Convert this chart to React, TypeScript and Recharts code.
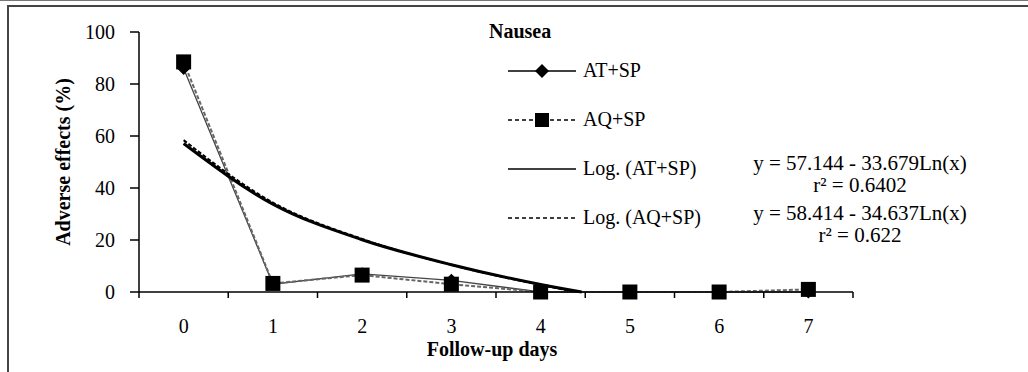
import React from 'react';
import { LineChart, Line, XAxis, YAxis, Legend, Label } from 'recharts';

const DAYS = [0, 1, 2, 3, 4, 5, 6, 7];
const AT_SP = [86, 3, 7, 4.5, 0, 0, 0, 0];
const AQ_SP = [88.5, 3.3, 6.5, 3, 0, 0, 0, 1];

// trend curves (they end where they reach 0)
const TREND_AT_X = [0, 1, 2, 3, 4, 4.46];
const TREND_AT = [57.1, 33.8, 20.1, 10.5, 2.9, 0];
const TREND_AQ_X = [0, 1, 2, 3, 4, 4.4];
const TREND_AQ = [58.4, 34.4, 20.4, 10.4, 2.7, 0];

const Y_TICKS = [0, 20, 40, 60, 80, 100];
const X_BOUNDS = [-0.5, 0.5, 1.5, 2.5, 3.5, 4.5, 5.5, 6.5, 7.5];

const EQ_AT = ['y = 57.144 - 33.679Ln(x)', 'r² = 0.6402'];
const EQ_AQ = ['y = 58.414 - 34.637Ln(x)', 'r² = 0.622'];

const FONT = "'Liberation Serif', 'Times New Roman', serif";

const dataAT = DAYS.map((d, i) => ({ x: d, v: AT_SP[i] }));
const dataAQ = DAYS.map((d, i) => ({ x: d, v: AQ_SP[i] }));
const trendAT = TREND_AT_X.map((d, i) => ({ x: d, v: TREND_AT[i] }));
const trendAQ = TREND_AQ_X.map((d, i) => ({ x: d, v: TREND_AQ[i] }));

const Square = (props: any) => {
  const { cx, cy } = props;
  if (cx == null || cy == null) return null;
  return <rect x={cx - 7.5} y={cy - 7.5} width={15} height={15} fill="#000" />;
};

const Diamond = (props: any) => {
  const { cx, cy } = props;
  if (cx == null || cy == null) return null;
  const s = 6.5;
  return <polygon points={`${cx},${cy - s} ${cx + s},${cy} ${cx},${cy + s} ${cx - s},${cy}`} fill="#000" />;
};

const LEGEND_ROWS = [
  { name: 'AT+SP', dash: undefined, marker: 'diamond' },
  { name: 'AQ+SP', dash: '4 3', marker: 'square' },
  { name: 'Log. (AT+SP)', dash: undefined, marker: null },
  { name: 'Log. (AQ+SP)', dash: '4 3', marker: null },
];

const renderLegend = () => (
  <div style={{ fontFamily: FONT, fontSize: 20, color: '#000' }}>
    {LEGEND_ROWS.map((r) => (
      <div key={r.name} style={{ display: 'flex', alignItems: 'center', height: 49 }}>
        <svg width={70} height={16} style={{ marginRight: 5 }}>
          <line x1={0} y1={8} x2={68} y2={8} stroke="#000" strokeWidth={1.5} strokeDasharray={r.dash} />
          {r.marker === 'diamond' && <polygon points="34,1 41,8 34,15 27,8" fill="#000" />}
          {r.marker === 'square' && <rect x={27} y={1} width={14} height={14} fill="#000" />}
        </svg>
        <span>{r.name}</span>
      </div>
    ))}
  </div>
);

const eqStyle = (top: number): React.CSSProperties => ({
  position: 'absolute',
  left: 740,
  width: 240,
  top,
  textAlign: 'center',
  fontFamily: FONT,
  fontSize: 21,
  lineHeight: '22px',
  color: '#000',
});

export default function App() {
  return (
    <div style={{ position: 'absolute', left: 0, top: 0, width: 1028, height: 372, background: '#fff', overflow: 'hidden' }}>
      <div style={{ position: 'absolute', left: 0, top: 0, width: 1028, height: 1, background: '#777' }} />
      <div style={{ position: 'absolute', left: 7, top: 5, width: 1040, height: 400, border: '2px solid #444', boxSizing: 'border-box' }} />
      <LineChart width={1028} height={372} margin={{ top: 32, right: 175, bottom: 12, left: 49 }}>
        <XAxis
          xAxisId="a"
          type="number"
          dataKey="x"
          domain={[-0.5, 7.5]}
          ticks={X_BOUNDS}
          tickFormatter={() => ''}
          height={8}
          tickSize={6}
          stroke="#000"
          strokeWidth={1.5}
        />
        <XAxis
          xAxisId="b"
          type="number"
          dataKey="x"
          domain={[-0.5, 7.5]}
          ticks={DAYS}
          axisLine={false}
          tickLine={false}
          tickSize={0}
          tickMargin={19}
          height={60}
          tick={{ fontFamily: FONT, fontSize: 20, fill: '#000' }}
        >
          <Label value="Follow-up days" position="insideBottom" offset={4} dx={-4}
            style={{ fontFamily: FONT, fontSize: 20, fontWeight: 'bold', fill: '#000' }} />
        </XAxis>
        <YAxis
          type="number"
          domain={[0, 100]}
          ticks={Y_TICKS}
          width={90}
          tickSize={9}
          tickMargin={15}
          stroke="#000"
          strokeWidth={1.5}
          tick={{ fontFamily: FONT, fontSize: 20, fill: '#000' }}
        >
          <Label value="Adverse effects (%)" angle={-90} position="insideLeft" offset={14}
            style={{ textAnchor: 'middle', fontFamily: FONT, fontSize: 20, fontWeight: 'bold', fill: '#000' }} />
        </YAxis>
        <Legend
          layout="vertical"
          align="center"
          verticalAlign="middle"
          content={renderLegend}
          wrapperStyle={{ position: 'absolute', left: 508, top: 46, width: 240 }}
        />
        <Line xAxisId="a" data={dataAT} dataKey="v" name="AT+SP" stroke="#444" strokeWidth={1.3}
          dot={<Diamond />} activeDot={false} isAnimationActive={false} />
        <Line xAxisId="a" data={dataAQ} dataKey="v" name="AQ+SP" stroke="#666" strokeWidth={2} strokeDasharray="4 2"
          dot={<Square />} activeDot={false} isAnimationActive={false} />
        <Line xAxisId="a" data={trendAT} dataKey="v" name="Log. (AT+SP)" type="monotone" stroke="#000" strokeWidth={3}
          dot={false} activeDot={false} isAnimationActive={false} />
        <Line xAxisId="b" data={trendAQ} dataKey="v" name="Log. (AQ+SP)" type="monotone" stroke="#000" strokeWidth={2}
          strokeDasharray="4 2" dot={false} activeDot={false} isAnimationActive={false} />
      </LineChart>
      <div style={{ position: 'absolute', left: 489, top: 20, fontFamily: FONT, fontSize: 20, fontWeight: 'bold', color: '#000' }}>
        Nausea
      </div>
      <div style={eqStyle(152)}>
        <div>{EQ_AT[0]}</div>
        <div>{EQ_AT[1]}</div>
      </div>
      <div style={eqStyle(202)}>
        <div>{EQ_AQ[0]}</div>
        <div>{EQ_AQ[1]}</div>
      </div>
    </div>
  );
}
